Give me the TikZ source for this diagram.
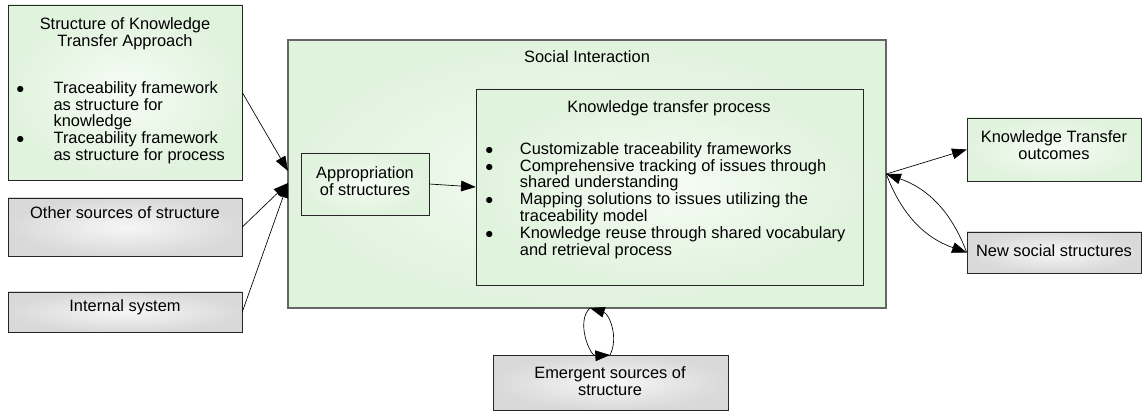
\documentclass[tikz,border=0pt]{standalone}
\usepackage{fontspec}
\setmainfont{Liberation Sans}
\usepackage{xcolor}
\usepackage{tikz}
\usetikzlibrary{positioning}
\usetikzlibrary{arrows.meta}
\usetikzlibrary{calc}
\definecolor{gcenter}{HTML}{F6FCF5}
\definecolor{gedge}{HTML}{E0F3DD}
\definecolor{ycenter}{HTML}{F6F6F6}
\definecolor{yedge}{HTML}{D9D9D9}
\tikzstyle{greenbox}=[rectangle,draw=black!85,shading=radial,inner color=gcenter,outer color=gedge,inner sep=0pt]
\tikzstyle{graybox}=[rectangle,draw=black!85,shading=radial,inner color=ycenter,outer color=yedge,inner sep=0pt]
\tikzstyle{txt}=[inner sep=0pt,align=center,font=\fontsize{12.3pt}{12.5pt}\selectfont]
\tikzstyle{lst}=[inner sep=0pt,anchor=north west,font=\fontsize{12.3pt}{12.5pt}\selectfont]
\tikzstyle{edge} = [draw,line width=0.5pt,-{Triangle[length=11pt,width=8pt]}]
\newcommand{\bul}{$\bullet$}

\begin{document}
\begin{tikzpicture}[x=0.75pt,y=-0.75pt]
 \useasboundingbox (0,0) rectangle (1146,413);

 \def\u{0.75pt};

 %green boxes (x/y = top left, w/h in px)
 \foreach \x/\y/\w/\h/\name in {8/5/234/175/sk, 288/40/598/268/si, 967/118/174/63/ko}
   \node[greenbox, minimum width=\w*\u, minimum height=\h*\u] (\name) at (\x+\w/2, \y+\h/2) {};
 \path (si) node[draw=black!60, line width=0.8pt, minimum width=598*\u, minimum height=268*\u] {};

 %inside social interaction
 \foreach \x/\y/\w/\h/\name in {301/153/128/62/app, 476/89/387/196/kt}
   \node[greenbox, minimum width=\w*\u, minimum height=\h*\u] (\name) at (\x+\w/2, \y+\h/2) {};

 %gray boxes
 \foreach \x/\y/\w/\h/\name in {8/198/234/58/os, 8/292/234/40/is, 967/232/174/41/ns, 493/355/235/55/es}
   \node[graybox, minimum width=\w*\u, minimum height=\h*\u] (\name) at (\x+\w/2, \y+\h/2) {};

 %texts
 \node[txt] (skT) at (125,33.5) {Structure of Knowledge\\Transfer Approach};
 \node[lst] (skL) at (16,81) {\begin{tabular}{@{}p{28pt}@{}l@{}}
   \bul & Traceability framework\\
        & as structure for\\
        & knowledge\\
   \bul & Traceability framework\\
        & as structure for process
 \end{tabular}};
 \node[txt] (osT) at (125,213) {Other sources of structure};
 \node[txt] (isT) at (125,307) {Internal system};
 \node[txt] (siT) at (587,57) {Social Interaction};
 \node[txt] (appT) at (365,181) {Appropriation\\of structures};
 \node[txt] (ktT) at (669,108) {Knowledge transfer process};
 \node[lst] (ktL) at (485,142) {\begin{tabular}{@{}p{26pt}@{}l@{}}
   \bul & Customizable traceability frameworks\\
   \bul & Comprehensive tracking of issues through\\
        & shared understanding\\
   \bul & Mapping solutions to issues utilizing the\\
        & traceability model\\
   \bul & Knowledge reuse through shared vocabulary\\
        & and retrieval process
 \end{tabular}};
 \node[txt] (koT) at (1054,145) {Knowledge Transfer\\outcomes};
 \node[txt] (nsT) at (1054,251) {New social structures};
 \node[txt] (esT) at (610,381) {Emergent sources of\\structure};

 %arrows
 \coordinate (in1) at (288,171);
 \coordinate (in2) at (288,183);
 \foreach \source/ \dest in {sk.east/in1, os.east/in2, is.east/in2}
   \path[edge] (\source) -- (\dest);

 \path[edge] (app.east) -- (kt.west);
 \path[edge] (si.east) -- (ko.west);
 \path[edge] (si.east) to[bend right=25] (ns.west);
 \path[edge] (ns.west) to[bend right=25] (si.east);

 \coordinate (lp1) at (590,308);
 \coordinate (lp2) at (610,355);
 \path[edge] (lp1) to[bend right=70] (lp2);
 \path[edge] (lp2) to[bend right=50] (lp1);

\end{tikzpicture}
\end{document}
